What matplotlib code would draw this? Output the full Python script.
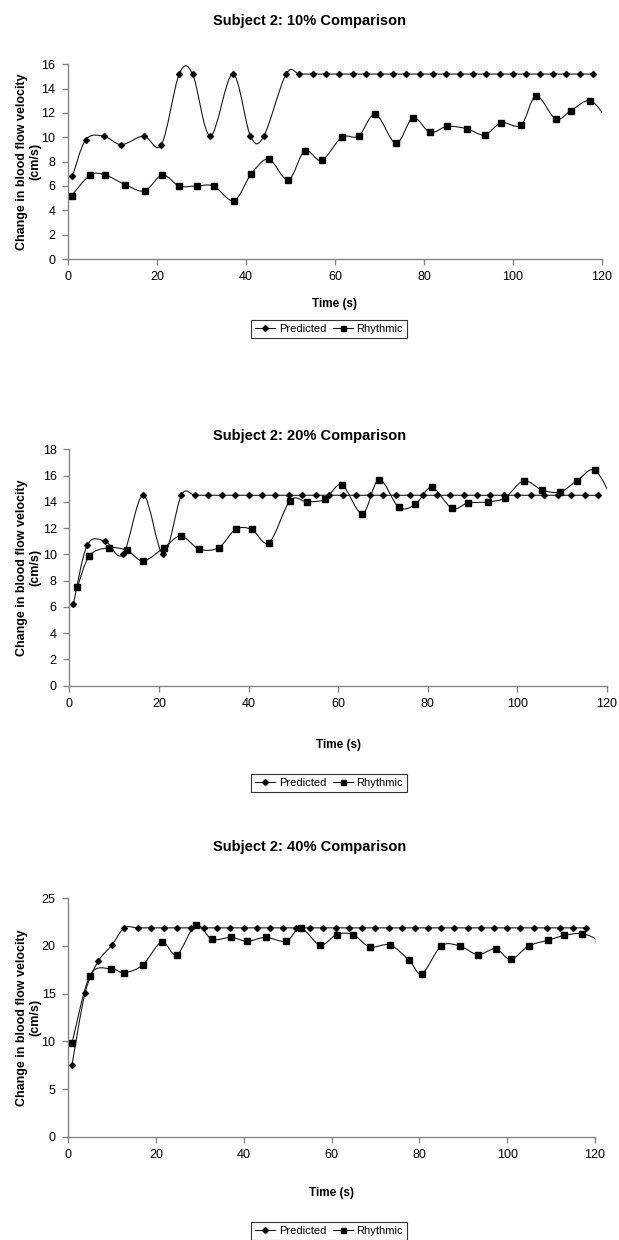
# Subject 2 blood flow velocity: predicted vs rhythmic, three effort levels.

import numpy as np
import matplotlib
matplotlib.use('Agg')
import matplotlib.pyplot as plt
from matplotlib.path import Path
from matplotlib.patches import PathPatch
from matplotlib.lines import Line2D

plt.rcParams['font.family'] = ['Liberation Sans', 'DejaVu Sans']

# ---- data ----
# 10%
pred10_t = [1, 4, 8, 12, 17, 21, 25, 28, 32, 37, 41, 44, 49, 52, 55, 58, 61, 64,
            67, 70, 73, 76, 79, 82, 85, 88, 91, 94, 97, 100, 103, 106, 109, 112, 115, 118]
pred10_v = [6.8, 9.8, 10.1, 9.4, 10.1, 9.4, 15.2, 15.2, 10.1, 15.2, 10.1, 10.1, 15.2, 15.2,
            15.2, 15.2, 15.2, 15.2, 15.2, 15.2, 15.2, 15.2, 15.2, 15.2, 15.2, 15.2, 15.2,
            15.2, 15.2, 15.2, 15.2, 15.2, 15.2, 15.2, 15.2, 15.2]
rhy10_t = [0.8, 5, 8.4, 12.9, 17.2, 21.2, 25, 28.9, 32.7, 37.3, 41.2, 45.1, 49.5, 53.2,
           57, 61.5, 65.3, 69.1, 73.7, 77.5, 81.4, 85.2, 89.7, 93.6, 97.4, 101.8, 105.2,
           109.6, 113, 117.4, 121.5]
rhy10_v = [5.2, 6.9, 6.9, 6.1, 5.6, 6.9, 6.0, 6.0, 6.0, 4.8, 7.0, 8.2, 6.5, 8.9, 8.1,
           10.0, 10.1, 11.9, 9.5, 11.6, 10.4, 10.9, 10.7, 10.2, 11.2, 11.0, 13.4, 11.5,
           12.2, 13.0, 11.3]

# 20%
pred20_t = [0.9, 4, 8, 12, 16.5, 21, 25, 28, 31, 34, 37, 40, 43, 46, 49, 52, 55, 58, 61,
            64, 67, 70, 73, 76, 79, 82, 85, 88, 91, 94, 97, 100, 103, 106, 109, 112, 115, 118]
pred20_v = [6.2, 10.7, 11.0, 10.0, 14.5, 10.0, 14.5, 14.5, 14.5, 14.5, 14.5, 14.5, 14.5,
            14.5, 14.5, 14.5, 14.5, 14.5, 14.5, 14.5, 14.5, 14.5, 14.5, 14.5, 14.5, 14.5,
            14.5, 14.5, 14.5, 14.5, 14.5, 14.5, 14.5, 14.5, 14.5, 14.5, 14.5, 14.5]
rhy20_t = [1.8, 4.5, 8.8, 12.9, 16.5, 21.1, 24.9, 29, 33.3, 37.1, 40.7, 44.6, 49.3, 53.1,
           57.1, 60.8, 65.4, 69.1, 73.5, 77.2, 80.9, 85.4, 88.9, 93.5, 97.2, 101.4, 105.5,
           109.5, 113.3, 117.3, 121.5]
rhy20_v = [7.5, 9.9, 10.5, 10.3, 9.5, 10.5, 11.4, 10.4, 10.5, 11.9, 11.9, 10.9, 14.1, 14.0,
           14.2, 15.3, 13.1, 15.7, 13.6, 13.8, 15.1, 13.5, 13.9, 14.0, 14.3, 15.6, 14.9,
           14.75, 15.6, 16.4, 14.0]

# 40%
pred40_t = [0.9, 3.9, 6.9, 10, 12.8, 15.9, 18.9, 21.9, 24.9, 27.9, 31, 34, 37, 40, 43, 46,
            49, 52, 55, 58, 61, 64, 67, 70, 73, 76, 79, 82, 85, 88, 91, 94, 97, 100, 103,
            106, 109, 112, 115, 118]
pred40_v = [7.5, 15.1, 18.4, 20.1, 21.9, 21.9, 21.9, 21.9, 21.9, 21.9, 21.9, 21.9, 21.9,
            21.9, 21.9, 21.9, 21.9, 21.9, 21.9, 21.9, 21.9, 21.9, 21.9, 21.9, 21.9, 21.9,
            21.9, 21.9, 21.9, 21.9, 21.9, 21.9, 21.9, 21.9, 21.9, 21.9, 21.9, 21.9, 21.9, 21.9]
rhy40_t = [0.9, 5, 9.8, 12.8, 17, 21.3, 24.8, 29.1, 32.8, 37.1, 40.8, 45, 49.7, 53, 57.4,
           61.2, 64.9, 68.7, 73.3, 77.7, 80.6, 85, 89.2, 93.3, 97.4, 100.8, 104.9, 109.3,
           113, 117.1, 121]
rhy40_v = [9.8, 16.9, 17.6, 17.2, 18.0, 20.4, 19.1, 22.2, 20.7, 20.9, 20.5, 20.9, 20.5,
           21.9, 20.1, 21.2, 21.2, 19.9, 20.1, 18.5, 17.1, 20.0, 20.0, 19.1, 19.7, 18.6,
           20.0, 20.6, 21.1, 21.3, 20.6]

titles = ['Subject 2: 10% Comparison', 'Subject 2: 20% Comparison', 'Subject 2: 40% Comparison']
ylabel = 'Change in blood flow velocity\n(cm/s)'
xticks = [0, 20, 40, 60, 80, 100, 120]


def smooth_path(t, v):
    # Excel style smoothed line: one cubic Bezier per segment through the points
    p = np.column_stack([t, v]).astype(float)
    ext = np.vstack([p[0], p, p[-1]])
    verts = [p[0]]
    codes = [Path.MOVETO]
    for i in range(len(p) - 1):
        p0, p1, p2, p3 = ext[i], ext[i + 1], ext[i + 2], ext[i + 3]
        verts += [p1 + (p2 - p0) / 6, p2 - (p3 - p1) / 6, p2]
        codes += [Path.CURVE4] * 3
    return Path(verts, codes)


W, H = 619, 1240
fig = plt.figure(figsize=(W / 100, H / 100), dpi=100)

# pixel layout: (left, top, right, bottom) of plot area, title y, xlabel y, legend y
panels = [
    dict(box=(68, 64.3, 602, 259), ylim=16, ystep=2, title_y=21, xlab_y=304, leg_y=329,
         pred=(pred10_t, pred10_v), rhy=(rhy10_t, rhy10_v)),
    dict(box=(69.3, 449.3, 607, 685.7), ylim=18, ystep=2, title_y=436, xlab_y=745, leg_y=783,
         pred=(pred20_t, pred20_v), rhy=(rhy20_t, rhy20_v)),
    dict(box=(68, 898.3, 595, 1136.7), ylim=25, ystep=5, title_y=847, xlab_y=1193, leg_y=1231,
         pred=(pred40_t, pred40_v), rhy=(rhy40_t, rhy40_v)),
]

axis_grey = '#858585'
line_col = '#1a1a1a'

for title, pn in zip(titles, panels):
    l, t, r, b = pn['box']
    ax = fig.add_axes([l / W, 1 - b / H, (r - l) / W, (b - t) / H])

    for t_, v_, mk, ms in [(*pn['pred'], 'D', 3.0), (*pn['rhy'], 's', 3.8)]:
        ax.add_patch(PathPatch(smooth_path(t_, v_), facecolor='none', edgecolor=line_col, lw=0.8))
        ax.plot(t_, v_, linestyle='none', marker=mk, markersize=ms, color='black')

    ax.set_xlim(0, 120)
    ax.set_ylim(0, pn['ylim'])
    ax.set_xticks(xticks)
    ax.set_yticks(np.arange(0, pn['ylim'] + 1, pn['ystep']))
    for side in ['top', 'right']:
        ax.spines[side].set_visible(False)
    for side in ['left', 'bottom']:
        ax.spines[side].set_color(axis_grey)
        ax.spines[side].set_linewidth(1.0)
    ax.tick_params(direction='out', length=4, width=1, color=axis_grey,
                   labelsize=9, labelcolor='black', pad=5)

    ax.set_ylabel(ylabel, fontsize=9, fontweight='bold', linespacing=1.1)
    ax.yaxis.set_label_coords((41 - l) / (r - l), 0.5)
    ax.set_xlabel('Time (s)', fontsize=8.5, fontweight='bold')
    ax.xaxis.set_label_coords(0.5, -(pn['xlab_y'] - b) / (b - t))
    ax.xaxis.label.set_verticalalignment('center')

    fig.text(0.5, 1 - pn['title_y'] / H, title, ha='center', va='center',
             fontsize=10.5, fontweight='bold')

    handles = [Line2D([], [], color=line_col, lw=0.8, marker='D', markersize=3.0,
                      markerfacecolor='black', markeredgecolor='black'),
               Line2D([], [], color=line_col, lw=0.8, marker='s', markersize=3.6,
                      markerfacecolor='black', markeredgecolor='black')]
    leg = fig.legend(handles, ['Predicted', 'Rhythmic'], loc='center',
                     bbox_to_anchor=(329 / W, 1 - pn['leg_y'] / H), ncol=2,
                     fontsize=8, frameon=True, fancybox=False, edgecolor='black',
                     handlelength=1.8, handletextpad=0.3, columnspacing=0.6,
                     borderpad=0.35, borderaxespad=0)
    leg.get_frame().set_linewidth(0.8)

fig.savefig('out.png', dpi=100)
